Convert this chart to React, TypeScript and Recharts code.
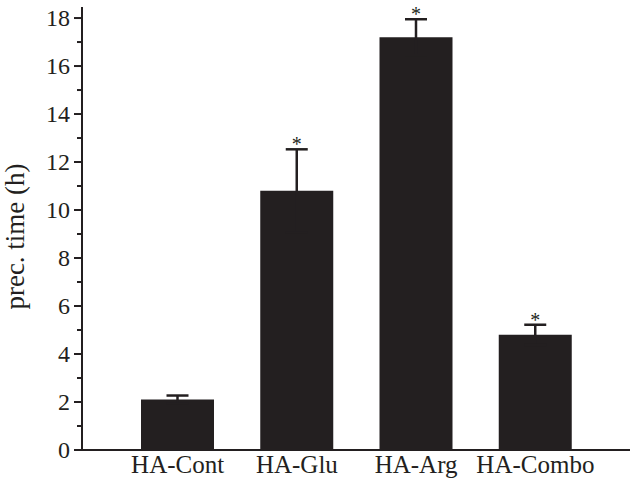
import React from 'react';
import { BarChart, Bar, XAxis, YAxis, ErrorBar, LabelList } from 'recharts';

const categories = ['HA-Cont', 'HA-Glu', 'HA-Arg', 'HA-Combo'];
const precTime = [2.1, 10.8, 17.2, 4.8];
const precErr = [0.17, 1.73, 0.75, 0.42];
const significance = ['', '*', '*', '*'];
const yTicks = [0, 1, 2, 3, 4, 5, 6, 7, 8, 9, 10, 11, 12, 13, 14, 15, 16, 17, 18];

const data = categories.map((name, i) => ({
  name,
  value: precTime[i],
  err: precErr[i],
  sig: significance[i],
}));

const FONT = '"Liberation Serif", "Times New Roman", serif';
const INK = '#231f20';
const TICK_SIZE = 8;
const TICK_MARGIN = 4;

const YTick = (props: any) => {
  const { x, y, payload } = props;
  const axisX = x + TICK_SIZE + TICK_MARGIN;
  const major = payload.value % 2 === 0;
  const len = major ? 8 : 5;
  return (
    <g>
      <line x1={axisX - len} x2={axisX} y1={y} y2={y} stroke={INK} strokeWidth={2} />
      {major && (
        <text x={x} y={y} dy="0.35em" textAnchor="end" fontFamily={FONT} fontSize={24} fill={INK}>
          {payload.value}
        </text>
      )}
    </g>
  );
};

const StarLabel = (props: any) => {
  const { x, y, width, height, index } = props;
  const d = data[index];
  if (!d || !d.sig) return null;
  const pxPerUnit = height / d.value;
  const topY = y - d.err * pxPerUnit;
  return (
    <text
      x={x + width / 2}
      y={topY + 2}
      textAnchor="middle"
      fontFamily={FONT}
      fontSize={20}
      fill={INK}
    >
      {d.sig}
    </text>
  );
};

export default function App() {
  return (
    <div style={{ position: 'absolute', left: 0, top: 0, background: '#fff' }}>
      <BarChart
        width={632}
        height={479}
        data={data}
        margin={{ top: 7, right: 2, bottom: 0, left: 0 }}
        barCategoryGap={0}
      >
        <XAxis
          dataKey="name"
          axisLine={{ stroke: INK, strokeWidth: 2 }}
          tickLine={false}
          tickSize={0}
          tickMargin={5}
          height={29}
          padding={{ left: 36, right: 35 }}
          tick={{ fontFamily: FONT, fontSize: 25, fill: INK }}
          interval={0}
        />
        <YAxis
          domain={[0, 18.46]}
          ticks={yTicks}
          interval={0}
          width={82}
          axisLine={{ stroke: INK, strokeWidth: 2 }}
          tickLine={false}
          tickSize={TICK_SIZE}
          tickMargin={TICK_MARGIN}
          tick={<YTick />}
          allowDataOverflow
          label={{
            content: ({ viewBox }: any) => {
              const cy = viewBox.y + viewBox.height / 2 + 8;
              const cx = viewBox.x + 24;
              return (
                <text
                  x={cx}
                  y={cy}
                  transform={`rotate(-90, ${cx}, ${cy})`}
                  textAnchor="middle"
                  fontFamily={FONT}
                  fontSize={27}
                  fill={INK}
                >
                  prec. time (h)
                </text>
              );
            },
          }}
        />
        <Bar dataKey="value" fill={INK} barSize={73} isAnimationActive={false}>
          <ErrorBar dataKey="err" direction="y" width={11} stroke={INK} strokeWidth={2.5} />
          <LabelList dataKey="sig" content={<StarLabel />} />
        </Bar>
      </BarChart>
    </div>
  );
}
